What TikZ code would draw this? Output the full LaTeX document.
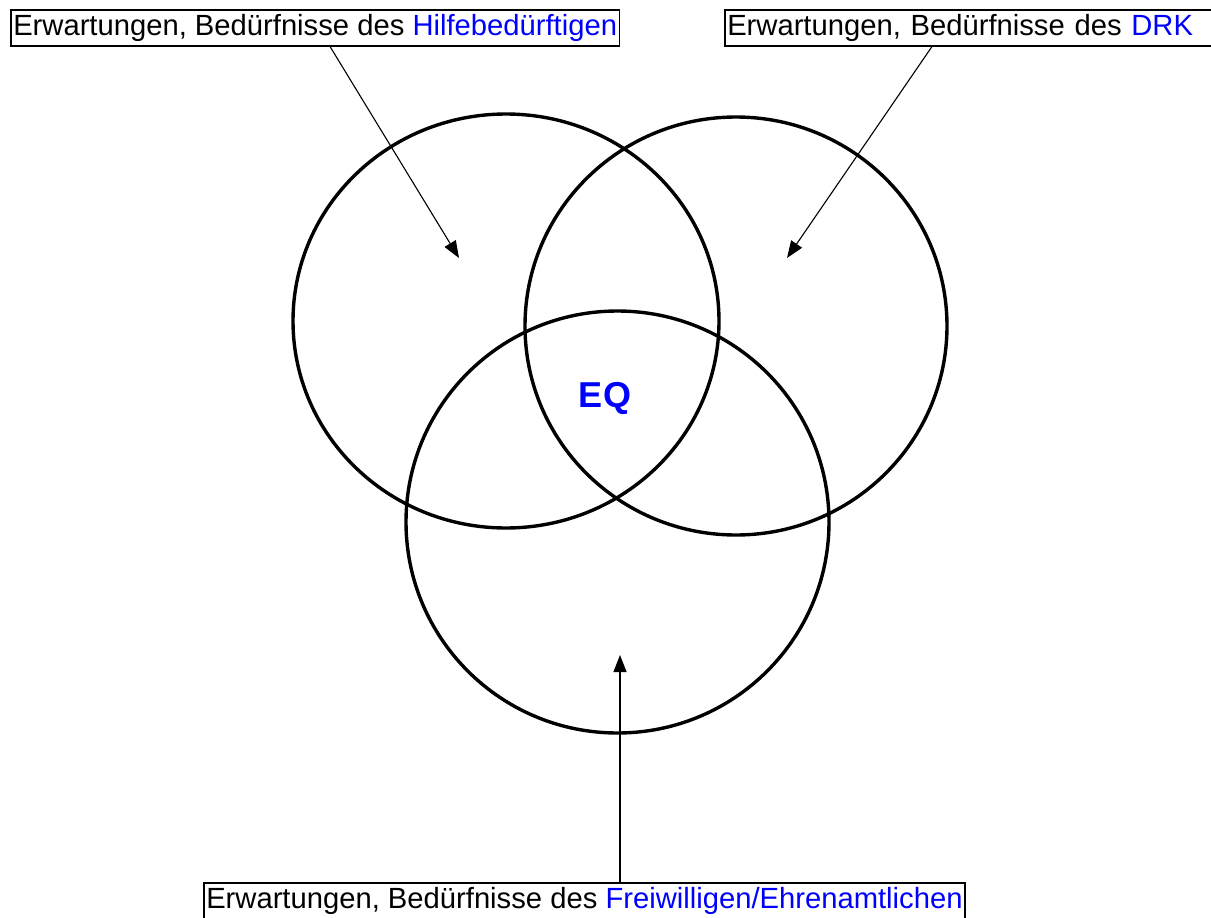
\documentclass[tikz,border=0pt]{standalone}
\usepackage{fontspec}
\setmainfont{Liberation Sans}
\usetikzlibrary{arrows.meta}
\definecolor{lblue}{RGB}{0,0,255}
\tikzset{
  labelbox/.style={draw, line width=1.5pt, anchor=north west, inner xsep=2.5pt, inner ysep=4.5pt,
    text height=21pt, text depth=6pt, font=\fontsize{29.2}{34}\selectfont, align=left},
  ring/.style={draw, line width=3.4pt},
  arr/.style={line width=1.1pt, -{Triangle[length=17pt,width=13pt]}},
  eqtext/.style={text=lblue, font=\fontsize{36}{42}\selectfont\bfseries}
}
\begin{document}
\begin{tikzpicture}[x=1pt,y=-1pt]
\useasboundingbox (0,0) rectangle (1211,918);
\clip (0,0) rectangle (1211,918);
% circles
\draw[ring] (506,321) ellipse [x radius=213, y radius=207];
\draw[ring] (736,326) ellipse [x radius=211, y radius=209];
\draw[ring] (617.5,522) ellipse [x radius=211.5, y radius=211];
% labels
\node[labelbox] (hb) at (10,9) {Erwartungen, Bedürfnisse des \textcolor{lblue}{Hilfebedürftigen}};
\node[labelbox, text width=520pt] (drk) at (724,9) {Erwartungen, Bedürfnisse des \textcolor{lblue}{DRK}};
\node[labelbox, text depth=20pt] (fw) at (203,882) {Erwartungen, Bedürfnisse des \textcolor{lblue}{Freiwilligen/Ehrenamtlichen}};
\node[eqtext] (eq) at (605,398) {EQ};
% arrow targets
\coordinate (t1) at (459,258);
\coordinate (t2) at (787,258);
\coordinate (t3) at (620,655);
\draw[arr] ([xshift=320pt]hb.south west) -- (t1);
\draw[arr] ([xshift=208pt]drk.south west) -- (t2);
\draw[arr] ([xshift=417pt]fw.north west) -- (t3);
\end{tikzpicture}
\end{document}
